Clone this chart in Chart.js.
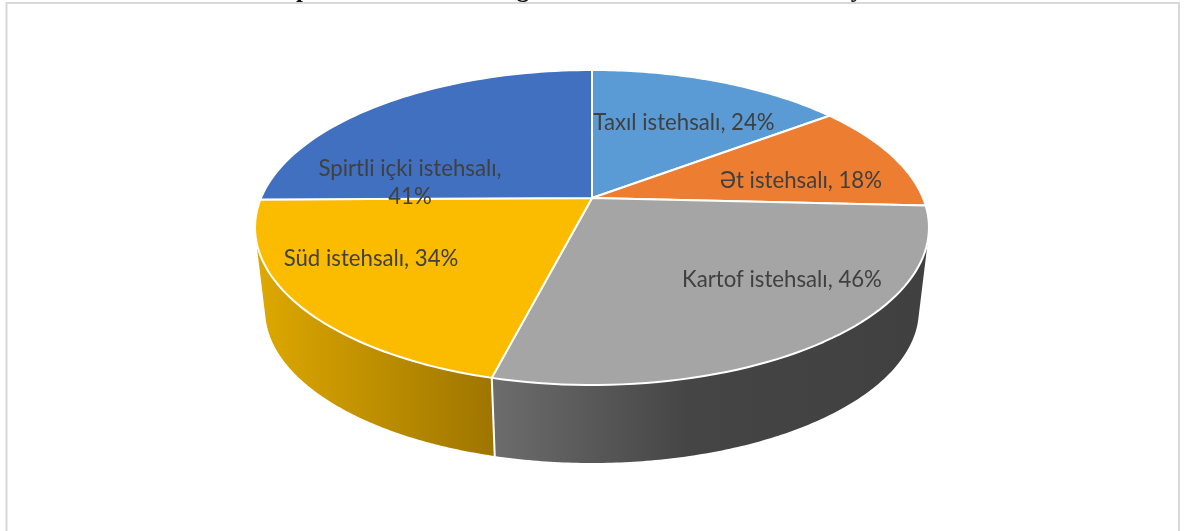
<!DOCTYPE html>
<html>
<head>
<meta charset="utf-8">
<style>html,body{margin:0;padding:0;background:#fff}canvas{display:block}</style>
<script src="https://cdn.jsdelivr.net/npm/chart.js@4"></script>
</head>
<body>
<canvas id="c" width="1184" height="531"></canvas>
<script>
const categories = ['Taxıl istehsalı', 'Ət istehsalı', 'Kartof istehsalı', 'Süd istehsalı', 'Spirtli içki istehsalı'];
const values = [24, 18, 46, 34, 41];
const topColors = ['#5B9BD5', '#ED7D31', '#A5A5A5', '#FBBC00', '#4070BF'];
const titleFragments = ['p', 'g', 'y'];

// Perspective projection of the unit disc (Excel-like 3D pie)
const view = {cx: 592, apexY: 198, a: 331, p: 114.9, c: -0.1873, depthScale: 0.97, topMid: 227.5, botMid: 310.2};
function projTop(t) {
  const x = Math.cos(t), y = Math.sin(t), w = 1 + view.c * y;
  return [view.cx + view.a * x / w, (view.apexY + view.p * y) / w];
}
function projBot(t) {
  const q = projTop(t);
  return [view.cx + (q[0] - view.cx) * view.depthScale, view.botMid + (q[1] - view.topMid) * view.depthScale];
}
const wallStyles = {
  2: {x0: 495, x1: 925, stops: [[0, '#6C6C6C'], [0.45, '#454545'], [1, '#404040']]},
  3: {x0: 262, x1: 495, stops: [[0, '#DCA700'], [1, '#9E7500']]}
};
const labelAnchors = [[684, 123], [801, 181], [782, 280], [371, 259], [410, 169]];
const wrapped = [false, false, false, false, true];

function addQuad(g, pts) {
  let area = 0;
  pts.forEach((p, i) => { const n = pts[(i + 1) % 4]; area += p[0] * n[1] - n[0] * p[1]; });
  const list = area < 0 ? pts.slice().reverse() : pts;
  g.moveTo(list[0][0], list[0][1]);
  for (let i = 1; i < 4; i++) g.lineTo(list[i][0], list[i][1]);
  g.closePath();
}

const pie3d = {
  id: 'pie3d',
  beforeDraw(chart) {
    const g = chart.ctx;
    g.save();
    g.strokeStyle = '#D9D9D9'; g.lineWidth = 2;
    g.strokeRect(6.5, 3, 1172.5, 600);
    g.fillStyle = '#111';
    g.font = 'bold 25px "Liberation Serif"';
    g.textAlign = 'center'; g.textBaseline = 'alphabetic';
    const xs = [303, 523, 857];
    titleFragments.forEach((s, i) => g.fillText(s, xs[i], -3));
    g.restore();
  },
  beforeDatasetDraw(chart, args) {
    const g = chart.ctx, arcs = args.meta.data, N = 60;
    g.save();
    g.lineJoin = 'round';
    // side walls for the slices facing the viewer
    arcs.forEach((el, i) => {
      const st = wallStyles[i];
      if (!st) return;
      const s = i === 2 ? el.startAngle - 0.9 : el.startAngle;
      const e = i === 3 ? el.endAngle + 0.4 : el.endAngle;
      const grad = g.createLinearGradient(st.x0, 0, st.x1, 0);
      st.stops.forEach(o => grad.addColorStop(o[0], o[1]));
      g.beginPath();
      const M = 240;
      for (let k = 0; k < M; k++) {
        const t0 = s + (e - s) * k / M, t1 = s + (e - s) * (k + 1) / M;
        addQuad(g, [projTop(t0), projTop(t1), projBot(t1), projBot(t0)]);
      }
      g.fillStyle = grad; g.fill();
    });
    // white seam between the two front walls
    const seam = arcs[3].startAngle;
    const a = projTop(seam), b = projBot(seam);
    g.strokeStyle = '#fff'; g.lineWidth = 2;
    g.beginPath(); g.moveTo(a[0], a[1]); g.lineTo(b[0], b[1]); g.stroke();
    // top faces
    arcs.forEach((el, i) => {
      const s = el.startAngle, e = el.endAngle;
      g.beginPath();
      g.moveTo(view.cx, view.apexY);
      for (let k = 0; k <= N; k++) { const q = projTop(s + (e - s) * k / N); g.lineTo(q[0], q[1]); }
      g.closePath();
      g.fillStyle = el.options.backgroundColor; g.fill();
      g.strokeStyle = '#fff'; g.lineWidth = 2; g.stroke();
    });
    g.restore();
    return false;
  },
  afterDatasetsDraw(chart) {
    const g = chart.ctx;
    g.save();
    g.fillStyle = '#404040';
    g.font = '22.2px Lato';
    g.textAlign = 'center'; g.textBaseline = 'middle';
    categories.forEach((name, i) => {
      const p = labelAnchors[i];
      if (wrapped[i]) {
        g.fillText(name + ',', p[0], p[1]);
        g.fillText(values[i] + '%', p[0], p[1] + 28);
      } else {
        g.fillText(name + ', ' + values[i] + '%', p[0], p[1]);
      }
    });
    g.restore();
  }
};

new Chart(document.getElementById('c'), {
  type: 'pie',
  data: {labels: categories, datasets: [{data: values, backgroundColor: topColors, borderColor: '#fff'}]},
  options: {
    responsive: false,
    animation: false,
    plugins: {legend: {display: false}, tooltip: {enabled: false}, title: {display: false}}
  },
  plugins: [pie3d]
});
</script>
</body>
</html>
